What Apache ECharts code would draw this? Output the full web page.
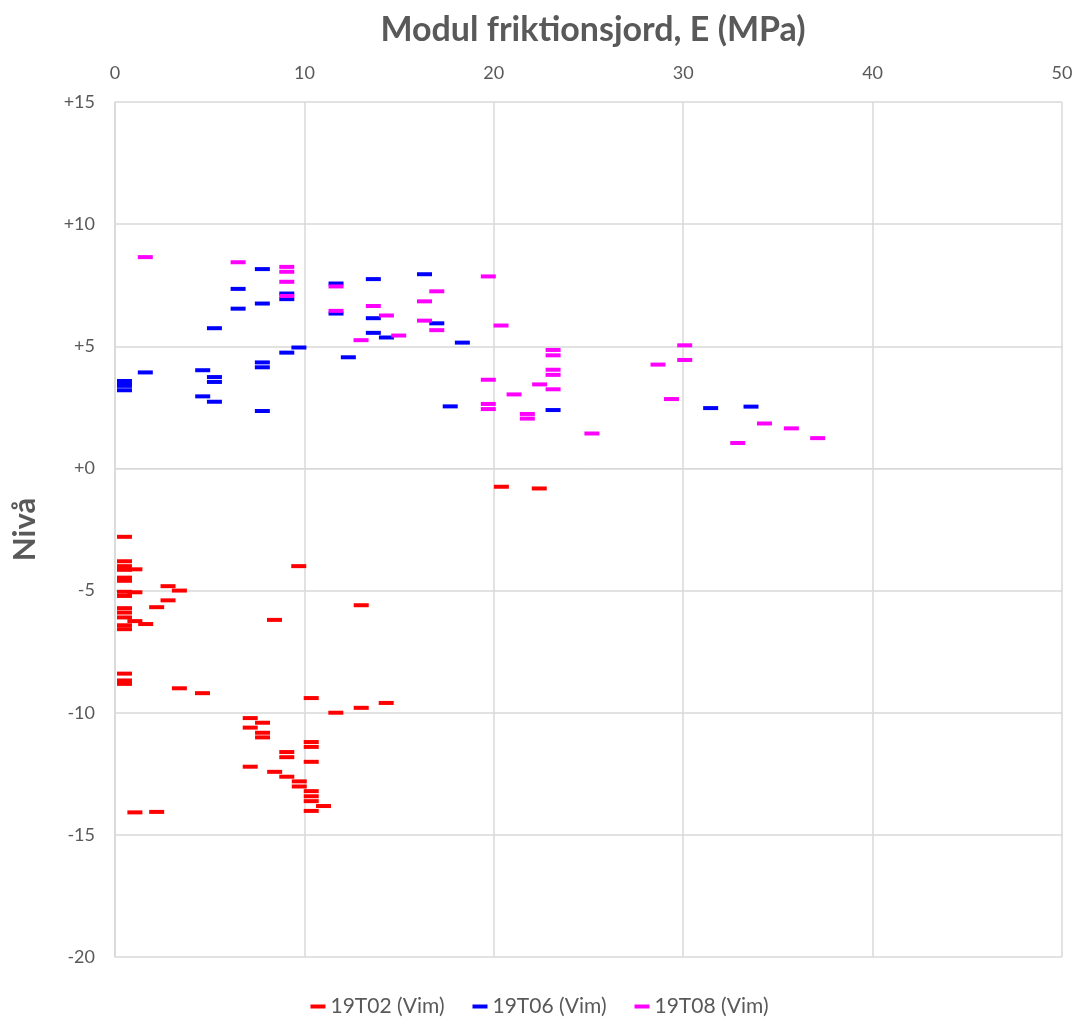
<!DOCTYPE html>
<html>
<head>
<meta charset="utf-8">
<title>Modul friktionsjord</title>
<script src="https://cdn.jsdelivr.net/npm/echarts@6/dist/echarts.min.js"></script>
<style>
  html, body { margin: 0; padding: 0; background: #fff; }
  #chart { width: 1079px; height: 1024px; }
</style>
</head>
<body>
<div id="chart"></div>
<script>
  // mätpunkter [E (MPa), nivå]
  const t02 = [
    [0.5, -2.8], [0.5, -3.8], [0.5, -4.0], [0.5, -4.15], [1.05, -4.13],
    [0.5, -4.47], [0.5, -4.6], [0.5, -5.05], [0.5, -5.22], [1.05, -5.07],
    [2.8, -4.82], [3.4, -5.0], [2.8, -5.4], [2.2, -5.68], [0.5, -5.72],
    [0.5, -5.9], [0.5, -6.1], [1.05, -6.25], [1.62, -6.37], [0.5, -6.42],
    [0.5, -6.58], [9.7, -4.0], [13.0, -5.6], [8.42, -6.2], [0.5, -8.4],
    [0.5, -8.68], [0.5, -8.82], [3.4, -9.0], [4.62, -9.2], [10.36, -9.4],
    [11.66, -10.0], [13.0, -9.8], [14.32, -9.6], [7.14, -10.22], [7.79, -10.41],
    [7.14, -10.61], [7.79, -10.82], [7.79, -11.01], [10.36, -11.2], [10.36, -11.4],
    [9.07, -11.61], [9.07, -11.82], [10.36, -12.01], [7.14, -12.21], [8.43, -12.42],
    [9.07, -12.62], [9.73, -12.81], [9.73, -13.02], [10.36, -13.21], [10.36, -13.42],
    [10.36, -13.62], [11.01, -13.82], [10.36, -14.02], [1.05, -14.08], [2.2, -14.06],
    [20.4, -0.75], [22.4, -0.82]
  ]
  const t06 = [
    [0.5, 3.58], [0.5, 3.47], [0.5, 3.38], [0.5, 3.2], [1.6, 3.93],
    [4.63, 4.02], [5.25, 3.74], [5.25, 3.54], [4.63, 2.95], [5.25, 2.73],
    [7.78, 2.35], [7.78, 4.34], [7.78, 4.14], [9.07, 4.74], [9.71, 4.95],
    [5.25, 5.74], [6.5, 7.35], [6.5, 6.54], [7.78, 8.16], [7.78, 6.75],
    [9.07, 7.16], [9.07, 6.93], [11.67, 7.57], [11.67, 6.34], [13.64, 7.75],
    [13.64, 6.15], [13.64, 5.55], [14.33, 5.36], [12.32, 4.55], [16.34, 7.95],
    [16.99, 5.94], [18.34, 5.15], [17.7, 2.54], [23.13, 2.39], [31.45, 2.47],
    [33.58, 2.53]
  ]
  const t08 = [
    [1.6, 8.65], [6.5, 8.44], [9.07, 8.25], [9.07, 8.05], [9.07, 7.64],
    [9.07, 7.06], [11.67, 7.45], [11.67, 6.45], [13.64, 6.65], [14.33, 6.26],
    [12.99, 5.25], [14.98, 5.44], [16.34, 6.84], [16.34, 6.05], [16.99, 7.25],
    [16.99, 5.66], [19.71, 7.86], [20.38, 5.85], [23.13, 4.85], [23.13, 4.63],
    [23.13, 4.04], [23.13, 3.83], [22.42, 3.44], [23.13, 3.24], [19.71, 3.63],
    [21.07, 3.03], [19.71, 2.64], [19.71, 2.43], [21.77, 2.23], [21.77, 2.04],
    [25.18, 1.43], [30.08, 5.04], [30.08, 4.44], [28.67, 4.25], [29.38, 2.84],
    [34.29, 1.84], [35.71, 1.64], [37.1, 1.24], [32.88, 1.04]
  ]
  const seriesNames = ['19T02 (Vim)', '19T06 (Vim)', '19T08 (Vim)']
  const seriesColors = ['#ff0000', '#0000ff', '#ff00ff']

  const textColor = '#595959'
  const gridColor = '#d9d9d9'
  const font = 'Lato, "Open Sans", sans-serif'

  let chart = echarts.init(document.getElementById('chart'))
  chart.setOption({
    animation: false,
    title: {
      text: 'Modul friktionsjord, E (MPa)',
      left: 588,
      textAlign: 'center',
      top: 8,
      textStyle: { color: textColor, fontSize: 34, fontWeight: 'bold', fontFamily: font },
    },
    grid: { left: 115, right: 17, top: 102, bottom: 67 },
    legend: {
      bottom: 2,
      left: 'center',
      itemWidth: 15,
      itemHeight: 4,
      itemGap: 28,
      icon: 'rect',
      textStyle: { color: textColor, fontSize: 21, fontFamily: font },
      data: seriesNames,
    },
    xAxis: {
      type: 'value',
      position: 'top',
      min: 0,
      max: 50,
      interval: 10,
      axisLine: { show: true, lineStyle: { color: gridColor } },
      axisTick: { show: false },
      axisLabel: { color: textColor, fontSize: 18, fontFamily: font, margin: 20 },
      splitLine: { show: true, lineStyle: { color: gridColor, width: 1.5 } },
    },
    yAxis: {
      type: 'value',
      name: 'Nivå',
      nameLocation: 'middle',
      nameGap: 75,
      nameTextStyle: { color: textColor, fontSize: 31, fontWeight: 'bold', fontFamily: font },
      min: -20,
      max: 15,
      interval: 5,
      axisLine: { show: true, lineStyle: { color: gridColor, width: 1.5 } },
      axisTick: { show: false },
      axisLabel: {
        color: textColor,
        fontSize: 18,
        fontFamily: font,
        margin: 20,
        formatter: (v) => (v >= 0 ? '+' + v : String(v)),
      },
      splitLine: { show: true, lineStyle: { color: gridColor, width: 1.5 } },
    },
    series: [t02, t06, t08].map((d, i) => ({
      name: seriesNames[i],
      type: 'scatter',
      symbol: 'rect',
      symbolSize: [15, 4],
      itemStyle: { color: seriesColors[i], opacity: 1 },
      data: d,
    })),
  })

  window.onresize = function () {
    chart.resize()
  }
</script>
</body>
</html>
